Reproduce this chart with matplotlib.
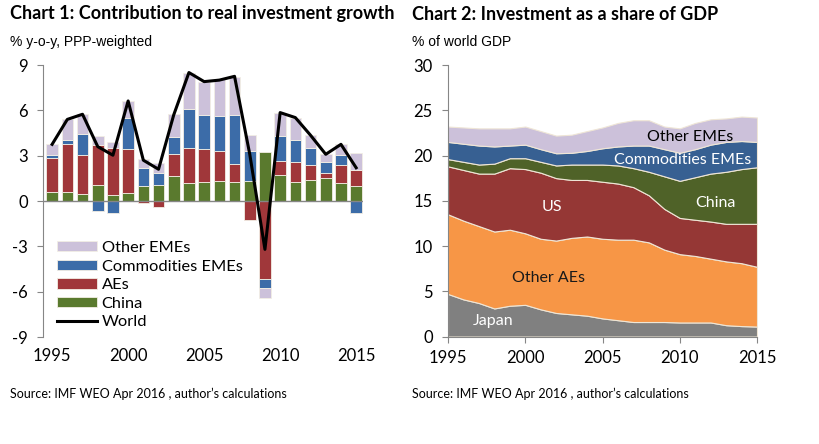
import matplotlib
matplotlib.use("Agg")
import matplotlib.pyplot as plt
import numpy as np

plt.rcParams['axes.unicode_minus'] = False

# ---------------- data ----------------
years = list(range(1995, 2016))

# Chart 1: contributions to real investment growth (% y-o-y)
china_c = [0.62, 0.62, 0.49, 1.06, 0.40, 0.51, 0.99, 1.06, 1.66, 1.17, 1.26,
           1.32, 1.26, 1.32, 3.25, 1.72, 1.28, 1.39, 1.50, 1.22, 0.99]
aes_c = [2.23, 3.18, 2.56, 2.63, 3.13, 2.96, -0.10, -0.40, 1.43, 2.36, 2.16,
         1.99, 1.22, -1.26, -5.19, 0.93, 1.30, 0.99, 0.38, 1.14, 1.04]
commod_c = [0.18, 0.22, 1.41, -0.66, -0.81, 1.99, 1.22, 0.82, 1.17, 2.54, 2.28,
            2.32, 3.22, 1.99, -0.55, 1.65, 1.46, 1.15, 0.73, 0.67, -0.81]
other_c = [0.77, 1.38, 1.28, 0.62, 0.37, 1.16, 0.60, 0.62, 1.48, 2.43, 2.18,
           2.47, 2.50, 1.04, -0.66, 1.55, 1.48, 0.82, 0.48, 0.72, 1.13]
world = [3.75, 5.40, 5.74, 3.60, 3.03, 6.62, 2.70, 2.10, 5.70, 8.50, 7.90,
         8.00, 8.25, 3.10, -3.20, 5.85, 5.52, 4.35, 3.09, 3.75, 2.20]

# Chart 2: investment as a share of world GDP (%)
japan_s = [4.7, 4.1, 3.7, 3.1, 3.4, 3.5, 3.0, 2.6, 2.45, 2.3, 2.0,
           1.8, 1.6, 1.6, 1.6, 1.55, 1.55, 1.55, 1.25, 1.15, 1.1]
other_aes_s = [8.8, 8.7, 8.5, 8.5, 8.4, 7.9, 7.8, 8.0, 8.45, 8.75, 8.8,
               8.9, 9.1, 8.8, 8.0, 7.55, 7.35, 7.05, 7.05, 6.95, 6.6]
us_s = [5.3, 5.6, 5.8, 6.4, 6.8, 7.1, 7.3, 6.9, 6.4, 6.25, 6.3,
        6.2, 5.8, 5.2, 4.5, 4.0, 4.0, 4.1, 4.15, 4.35, 4.75]
china_s = [0.8, 0.9, 1.0, 1.1, 1.1, 1.2, 1.2, 1.4, 1.7, 1.7, 1.9,
           2.0, 2.1, 2.6, 3.6, 4.1, 4.7, 5.3, 5.75, 6.05, 6.25]
commod_s = [1.9, 2.0, 2.1, 1.9, 1.4, 1.5, 1.4, 1.35, 1.3, 1.5, 1.8,
            2.1, 2.5, 2.9, 3.0, 3.1, 3.1, 3.2, 3.3, 3.1, 2.8]
other_s = [1.7, 1.8, 1.9, 2.0, 1.9, 2.0, 2.0, 1.95, 2.0, 2.2, 2.3,
           2.6, 2.8, 2.8, 2.5, 2.7, 2.9, 2.8, 2.6, 2.7, 2.7]

left_yticks = [-9, -6, -3, 0, 3, 6, 9]
right_yticks = [0, 5, 10, 15, 20, 25, 30]
xticks = [1995, 2000, 2005, 2010, 2015]

# ---------------- style ----------------
C_OTHER = '#CCC1DA'
C_COMMOD = '#3C6CA8'
C_AES = '#A0373A'
C_CHINA = '#5A7A2E'
C_JAPAN = '#808080'
C_OAES = '#F79646'
C_US = '#953735'
C_CHINA2 = '#4F6228'
C_COMMOD2 = '#376092'
AX_GRAY = '#868686'

FONT = 'Lato'
SANS = 'Liberation Sans'

fig = plt.figure(figsize=(8.2, 4.44), dpi=100)
fig.patch.set_facecolor('white')

# ---------------- Chart 1 ----------------
ax1 = fig.add_axes([43/820, 1-337/444, (363-43)/820, (337-65)/444])
x = np.array(years)
pos_bottom = np.zeros(len(years))
neg_bottom = np.zeros(len(years))
series = [(china_c, C_CHINA, 'China'), (aes_c, C_AES, 'AEs'),
          (commod_c, C_COMMOD, 'Commodities EMEs'), (other_c, C_OTHER, 'Other EMEs')]
handles = {}
for vals, col, lab in series:
    v = np.array(vals)
    bottom = np.where(v >= 0, pos_bottom, neg_bottom)
    b = ax1.bar(x, v, bottom=bottom, width=0.76, color=col,
                edgecolor='#F2EEE4', linewidth=0.6, label=lab, zorder=2)
    handles[lab] = b
    pos_bottom = pos_bottom + np.where(v >= 0, v, 0)
    neg_bottom = neg_bottom + np.where(v < 0, v, 0)
ln, = ax1.plot(x, world, color='black', linewidth=2.2, label='World', zorder=4)
ax1.axhline(0, color=AX_GRAY, linewidth=1.0, zorder=3)
ax1.set_xlim(1994.4, 2015.45)
ax1.set_ylim(-9, 9)
ax1.set_yticks(left_yticks)
ax1.set_xticks(xticks)
for s in ['top', 'right', 'bottom']:
    ax1.spines[s].set_visible(False)
ax1.spines['left'].set_color(AX_GRAY)
ax1.tick_params(axis='y', direction='out', length=4, color=AX_GRAY,
                labelsize=12, pad=7)
ax1.tick_params(axis='x', length=0, labelsize=12, pad=8)
for t in ax1.get_xticklabels() + ax1.get_yticklabels():
    t.set_fontfamily(FONT)

leg = ax1.legend([handles['Other EMEs'], handles['Commodities EMEs'],
                  handles['AEs'], handles['China'], ln],
                 ['Other EMEs', 'Commodities EMEs', 'AEs', 'China', 'World'],
                 loc='upper left', bbox_to_anchor=(0.045, 0.353),
                 frameon=False, prop={'family': FONT, 'size': 11.8},
                 handlelength=2.4, handleheight=0.6, handletextpad=0.3,
                 labelspacing=0.28, borderaxespad=0, borderpad=0)

# ---------------- Chart 2 ----------------
ax2 = fig.add_axes([448/820, 1-336.5/444, (757-448)/820, (336.5-65)/444])
ax2.stackplot(years, japan_s, other_aes_s, us_s, china_s, commod_s, other_s,
              colors=[C_JAPAN, C_OAES, C_US, C_CHINA2, C_COMMOD2, C_OTHER],
              edgecolor='#EFE6D6', linewidth=0.8, zorder=2)
ax2.set_xlim(1995, 2015)
ax2.set_ylim(0, 30)
ax2.set_yticks(right_yticks)
ax2.set_xticks(xticks)
for s in ['top', 'right']:
    ax2.spines[s].set_visible(False)
for s in ['left', 'bottom']:
    ax2.spines[s].set_color(AX_GRAY)
    ax2.spines[s].set_zorder(5)
ax2.tick_params(axis='both', direction='out', length=4, color=AX_GRAY,
                labelsize=12)
ax2.tick_params(axis='y', pad=7)
ax2.tick_params(axis='x', pad=6)
for t in ax2.get_xticklabels() + ax2.get_yticklabels():
    t.set_fontfamily(FONT)

lab_kw = dict(fontfamily=FONT, fontsize=11.5, ha='center', va='center', zorder=6)
ax2.text(2010.66, 22.0, 'Other EMEs', color='black', **lab_kw)
ax2.text(2010.2, 19.55, 'Commodities EMEs', color='white', **lab_kw)
ax2.text(2001.7, 14.3, 'US', color='white', **lab_kw)
ax2.text(2012.3, 14.8, 'China', color='white', **lab_kw)
ax2.text(2001.5, 6.5, 'Other AEs', color='#1a1a1a', **lab_kw)
ax2.text(1997.9, 1.7, 'Japan', color='white', **lab_kw)

# ---------------- titles / notes ----------------
fig.text(10/820, 1-14/444, 'Chart 1: Contribution to real investment growth',
         fontfamily=FONT, fontweight='bold', fontsize=13, va='center', ha='left')
fig.text(412/820, 1-14/444, 'Chart 2: Investment as a share of GDP',
         fontfamily=FONT, fontweight='bold', fontsize=13, va='center', ha='left')
fig.text(10/820, 1-42/444, '% y-o-y, PPP-weighted',
         fontfamily=SANS, fontsize=10, va='center', ha='left')
fig.text(412/820, 1-42/444, '% of world GDP',
         fontfamily=SANS, fontsize=10, va='center', ha='left')
src = 'Source: IMF WEO Apr 2016 , author\u2019s calculations'
fig.text(10/820, 1-394/444, src, fontfamily=FONT, fontsize=9, va='center', ha='left')
fig.text(412/820, 1-394/444, src, fontfamily=FONT, fontsize=9, va='center', ha='left')

fig.savefig('out.png', dpi=100, facecolor='white')
